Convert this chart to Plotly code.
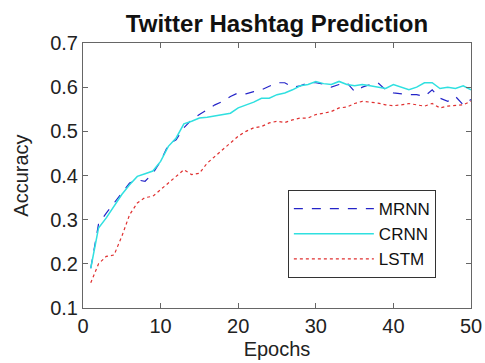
import plotly.graph_objects as go

epochs = list(range(1, 51))
mrnn = [0.19, 0.29, 0.315, 0.338, 0.36, 0.383, 0.39, 0.387, 0.405, 0.432,
        0.47, 0.481, 0.508, 0.526, 0.538, 0.549, 0.56, 0.568, 0.579, 0.587,
        0.585, 0.59, 0.594, 0.602, 0.61, 0.61, 0.60, 0.603, 0.61, 0.61,
        0.607, 0.60, 0.606, 0.61, 0.59, 0.60, 0.606, 0.61, 0.594, 0.587,
        0.585, 0.583, 0.583, 0.579, 0.594, 0.575, 0.568, 0.579, 0.56, 0.572]
crnn = [0.19, 0.281, 0.304, 0.33, 0.357, 0.379, 0.398, 0.404, 0.41, 0.432,
        0.466, 0.485, 0.517, 0.523, 0.53, 0.532, 0.535, 0.538, 0.541, 0.553,
        0.56, 0.566, 0.575, 0.575, 0.583, 0.587, 0.594, 0.603, 0.606, 0.613,
        0.608, 0.606, 0.613, 0.606, 0.603, 0.606, 0.603, 0.60, 0.597, 0.606,
        0.60, 0.594, 0.60, 0.61, 0.61, 0.597, 0.60, 0.597, 0.603, 0.594]
lstm = [0.157, 0.2, 0.217, 0.22, 0.262, 0.311, 0.338, 0.35, 0.353, 0.368,
        0.383, 0.398, 0.413, 0.402, 0.405, 0.428, 0.443, 0.458, 0.474, 0.489,
        0.5, 0.508, 0.511, 0.519, 0.523, 0.52, 0.526, 0.53, 0.53, 0.538,
        0.541, 0.545, 0.553, 0.555, 0.563, 0.568, 0.566, 0.564, 0.56, 0.558,
        0.56, 0.563, 0.56, 0.557, 0.563, 0.553, 0.557, 0.558, 0.56, 0.568]

x_ticks = [0, 10, 20, 30, 40, 50]
y_ticks = [0.1, 0.2, 0.3, 0.4, 0.5, 0.6, 0.7]

font_family = "Liberation Sans, Arial, Helvetica, sans-serif"

fig = go.Figure()
fig.add_trace(go.Scatter(x=epochs, y=mrnn, mode="lines", name="MRNN",
                         line=dict(color="#2424c8", width=1.2, dash="dash")))
fig.add_trace(go.Scatter(x=epochs, y=crnn, mode="lines", name="CRNN",
                         line=dict(color="#30e0e0", width=1.5)))
fig.add_trace(go.Scatter(x=epochs, y=lstm, mode="lines", name="LSTM",
                         line=dict(color="#e03030", width=1.2, dash="dot")))

axis_common = dict(showgrid=False, zeroline=False, showline=True,
                   linecolor="#666666", linewidth=1, mirror="ticks",
                   ticks="inside", ticklen=5, tickcolor="#666666",
                   automargin=False,
                   tickfont=dict(size=20, color="#222222"))

fig.update_layout(
    width=485, height=363,
    margin=dict(l=83, r=14, t=43, b=55),
    paper_bgcolor="white", plot_bgcolor="white",
    font=dict(family=font_family, color="#222222"),
    title=dict(text="<b>Twitter Hashtag Prediction</b>", x=0.5, xanchor="center",
               xref="paper", yref="container",
               y=0.934, yanchor="middle", font=dict(size=24, color="#111111")),
    xaxis=dict(range=[0, 50], tickvals=x_ticks,
               title=dict(text="Epochs", font=dict(size=20), standoff=5),
               **axis_common),
    yaxis=dict(range=[0.1, 0.7], tickvals=y_ticks, tickformat=".1f",
               title=dict(text="Accuracy", font=dict(size=20), standoff=16),
               **axis_common),
    legend=dict(x=0.528, y=0.445, xanchor="left", yanchor="top",
                bordercolor="#333333", borderwidth=1, bgcolor="white",
                font=dict(size=17, color="#111111"), tracegroupgap=0,
                itemwidth=80),
    showlegend=True,
)

fig.write_html("out.html", config={"displayModeBar": False},
               post_script="document.body.style.margin='0';document.body.style.overflow='hidden';")
